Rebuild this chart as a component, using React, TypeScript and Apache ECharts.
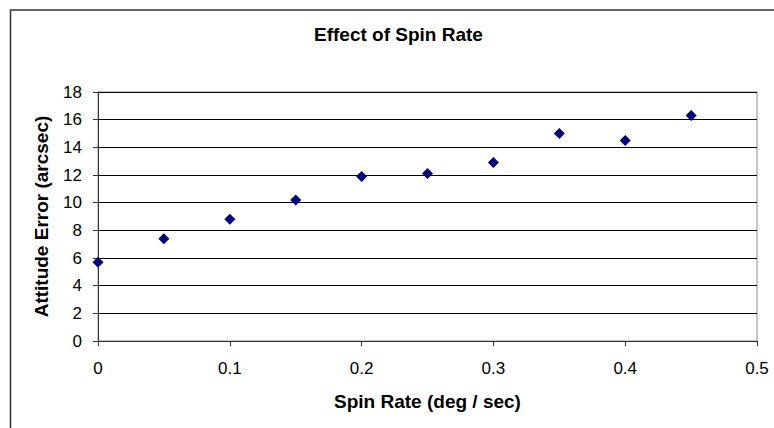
import React, { useEffect, useRef } from "react";
import * as echarts from "echarts";

const spinRates = [0, 0.05, 0.1, 0.15, 0.2, 0.25, 0.3, 0.35, 0.4, 0.45];
const attitudeErrors = [5.7, 7.4, 8.8, 10.2, 11.9, 12.1, 12.9, 15.0, 14.5, 16.3];
const titleText = "Effect of Spin Rate";
const xAxisTitle = "Spin Rate (deg / sec)";
const yAxisTitle = "Attitude Error (arcsec)";

const FONT = "Arial, 'Liberation Sans', Helvetica, sans-serif";

export default function App() {
  const ref = useRef<HTMLDivElement>(null);
  useEffect(() => {
    if (!ref.current) return;
    const chart = echarts.init(ref.current, undefined, { renderer: "svg" });
    chart.setOption({
      animation: false,
      backgroundColor: "#ffffff",
      textStyle: { fontFamily: FONT },
      title: {
        text: titleText,
        left: 314,
        top: 25,
        padding: 0,
        textStyle: { fontFamily: FONT, fontSize: 19, fontWeight: "bold", color: "#000" },
      },
      graphic: [
        {
          type: "rect",
          shape: { x: 10.5, y: 10, width: 800, height: 500 },
          style: { fill: "none", stroke: "#333", lineWidth: 1.5 },
          silent: true,
          z: -1,
        },
      ],
      grid: {
        left: 98,
        right: 17,
        top: 92,
        bottom: 87,
        show: true,
        borderColor: "#8c8c8c",
        borderWidth: 1,
        backgroundColor: "transparent",
      },
      xAxis: {
        type: "value",
        min: 0,
        max: 0.5,
        interval: 0.1,
        name: xAxisTitle,
        nameLocation: "middle",
        nameGap: 51,
        nameTextStyle: { fontFamily: FONT, fontSize: 19, fontWeight: "bold", color: "#000" },
        axisLine: { show: true, onZero: false, lineStyle: { color: "#333", width: 1 } },
        axisTick: { show: true, inside: false, length: 5, lineStyle: { color: "#333" } },
        axisLabel: { fontFamily: FONT, fontSize: 17, color: "#000", margin: 19 },
        splitLine: { show: false },
      },
      yAxis: {
        type: "value",
        min: 0,
        max: 18,
        interval: 2,
        name: yAxisTitle,
        nameLocation: "middle",
        nameGap: 47,
        nameTextStyle: { fontFamily: FONT, fontSize: 19, fontWeight: "bold", color: "#000" },
        axisLine: { show: true, lineStyle: { color: "#333", width: 1 } },
        axisTick: { show: true, inside: false, length: 5, lineStyle: { color: "#333" } },
        axisLabel: { fontFamily: FONT, fontSize: 17, color: "#000", margin: 16 },
        splitLine: { show: true, lineStyle: { color: "#000", width: 1 } },
      },
      series: [
        {
          type: "scatter",
          data: spinRates.map((x, i) => [x, attitudeErrors[i]]),
          symbol: "diamond",
          symbolSize: [11, 11],
          itemStyle: { color: "#000080", opacity: 1 },
          z: 5,
        },
      ],
    });
    return () => chart.dispose();
  }, []);
  return (
    <div
      ref={ref}
      style={{ position: "fixed", left: 0, top: 0, width: 774, height: 428 }}
    />
  );
}
